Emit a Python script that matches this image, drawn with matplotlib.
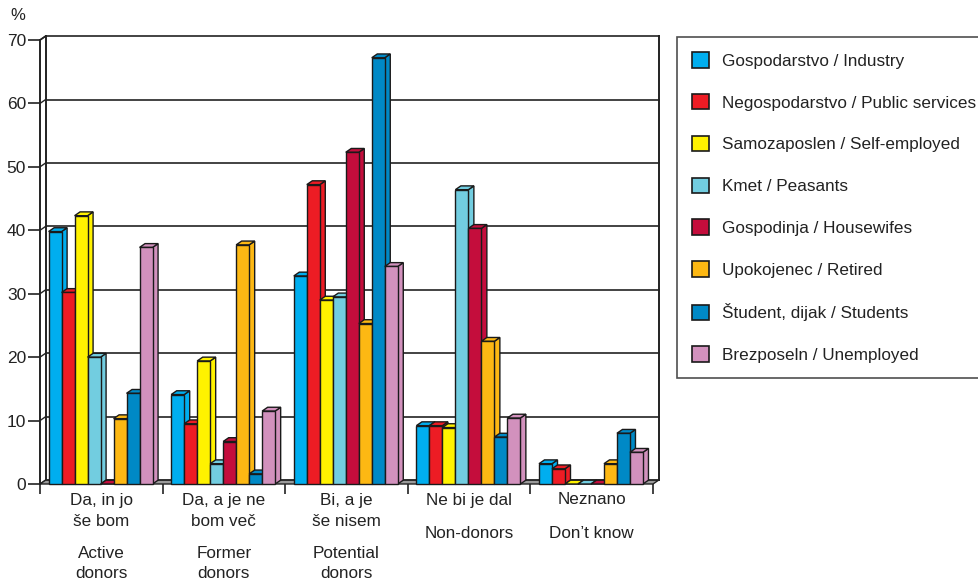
import matplotlib
matplotlib.use("Agg")
import matplotlib.pyplot as plt
from matplotlib.patches import Polygon, Patch
from matplotlib.transforms import blended_transform_factory

plt.rcParams['font.family'] = ['Liberation Sans', 'DejaVu Sans']

# data (percent)
groups_si = [["Da, in jo", "še bom"], ["Da, a je ne", "bom več"], ["Bi, a je", "še nisem"],
             ["Ne bi je dal"], ["Neznano"]]
groups_en = [["Active", "donors"], ["Former", "donors"], ["Potential", "donors"],
             ["Non-donors"], ["Don’t know"]]
series = ["Gospodarstvo / Industry", "Negospodarstvo / Public services",
          "Samozaposlen / Self-employed", "Kmet / Peasants", "Gospodinja / Housewifes",
          "Upokojenec / Retired", "Študent, dijak / Students", "Brezposeln / Unemployed"]
colors = ["#00aeef", "#ed1c24", "#fff200", "#72cde0", "#c40d3c", "#fdb813", "#0089c6", "#d291bd"]

industry = [39.8, 14.1, 32.8, 9.2, 3.2]
public = [30.2, 9.5, 47.2, 9.2, 2.4]
self_emp = [42.3, 19.4, 29.0, 8.9, 0.0]
peasants = [20.0, 3.2, 29.5, 46.4, 0.0]
housewives = [0.0, 6.7, 52.3, 40.3, 0.0]
retired = [10.3, 37.7, 25.3, 22.5, 3.2]
students = [14.3, 1.6, 67.2, 7.4, 8.0]
unemployed = [37.3, 11.5, 34.3, 10.4, 5.0]
values = [industry, public, self_emp, peasants, housewives, retired, students, unemployed]

W, H = 979, 579
fig = plt.figure(figsize=(W / 100, H / 100), dpi=100)
ax = fig.add_axes([40 / W, 1 - 484 / H, (653 - 40) / W, (484 - 40) / H])
ax.set_xlim(0, 5)
ax.set_ylim(0, 70)
for s in ax.spines.values():
    s.set_visible(False)

dx, dy = 0.045, 0.6   # depth of the fake 3D
bw = 0.106
start = 0.07
n = len(groups_si)

# back wall gridlines and frame
for yv in range(0, 71, 10):
    ax.plot([dx, 5 + dx], [yv + dy, yv + dy], color="#222222", lw=1.2, clip_on=False, zorder=1)
    ax.plot([0, dx], [yv, yv + dy], color="#222222", lw=1.0, clip_on=False, zorder=1)
ax.plot([5 + dx, 5 + dx], [dy, 70 + dy], color="#222222", lw=1.4, clip_on=False, zorder=1)
ax.plot([dx, dx], [dy, 70 + dy], color="#222222", lw=1.4, clip_on=False, zorder=1)
ax.plot([0, 0], [0, 70], color="#222222", lw=1.4, clip_on=False, zorder=1)
ax.plot([0, dx], [70, 70 + dy], color="#222222", lw=1.2, clip_on=False, zorder=1)

# floor
ax.add_patch(Polygon([(0, 0), (5, 0), (5 + dx, dy), (dx, dy)], closed=True,
                     facecolor="#9a9a9a", edgecolor="#222222", lw=1.0, zorder=2, clip_on=False))

# bars
z = 3
for g in range(n):
    for k, vals in enumerate(values):
        h = vals[g]
        x0 = g + start + k * bw
        x1 = x0 + bw
        c = colors[k]
        kw = dict(closed=True, facecolor=c, edgecolor="#1a1a1a", lw=1.0, clip_on=False, zorder=z)
        ax.add_patch(Polygon([(x1, 0), (x1 + dx, dy), (x1 + dx, h + dy), (x1, h)], **kw))
        ax.add_patch(Polygon([(x0, h), (x0 + dx, h + dy), (x1 + dx, h + dy), (x1, h)], **kw))
        if h > 0:
            ax.add_patch(Polygon([(x0, 0), (x1, 0), (x1, h), (x0, h)], **kw))
        z += 1

# ticks
ax.set_yticks(range(0, 71, 10))
ax.set_xticks(range(0, 6))
ax.set_xticklabels([])
ax.tick_params(axis="y", length=9, width=1.2, color="#222222", labelsize=12.5, pad=1,
               labelcolor="#222222")
ax.tick_params(axis="x", length=7, width=1.2, color="#222222")

# category labels
tr = blended_transform_factory(ax.transData, fig.transFigure)
for g in range(n):
    xc = g + 0.5
    if len(groups_si[g]) == 2:
        ys = [500, 522, 553, 573]
    else:
        ys = [500, 533]
    lines = groups_si[g] + groups_en[g]
    for txt, yp in zip(lines, ys):
        ax.text(xc, 1 - yp / H, txt, transform=tr, ha="center", va="center", fontsize=12.3,
                color="#222222")

fig.text(10 / W, 1 - 16 / H, "%", fontsize=12, color="#222222", va="center")

handles = [Patch(facecolor=c, edgecolor="#1a1a1a", lw=1.2) for c in colors]
leg = fig.legend(handles, series, loc="upper left", bbox_to_anchor=(677 / W, 1 - 37 / H),
                 borderaxespad=0, frameon=True, fancybox=False, edgecolor="#222222",
                 fontsize=12.3, handlelength=1.0, handleheight=1.0, handletextpad=0.75,
                 labelspacing=1.48, borderpad=0.9)
leg.get_frame().set_linewidth(1.2)
for t in leg.get_texts():
    t.set_color("#222222")

fig.savefig("out.png", dpi=100)
